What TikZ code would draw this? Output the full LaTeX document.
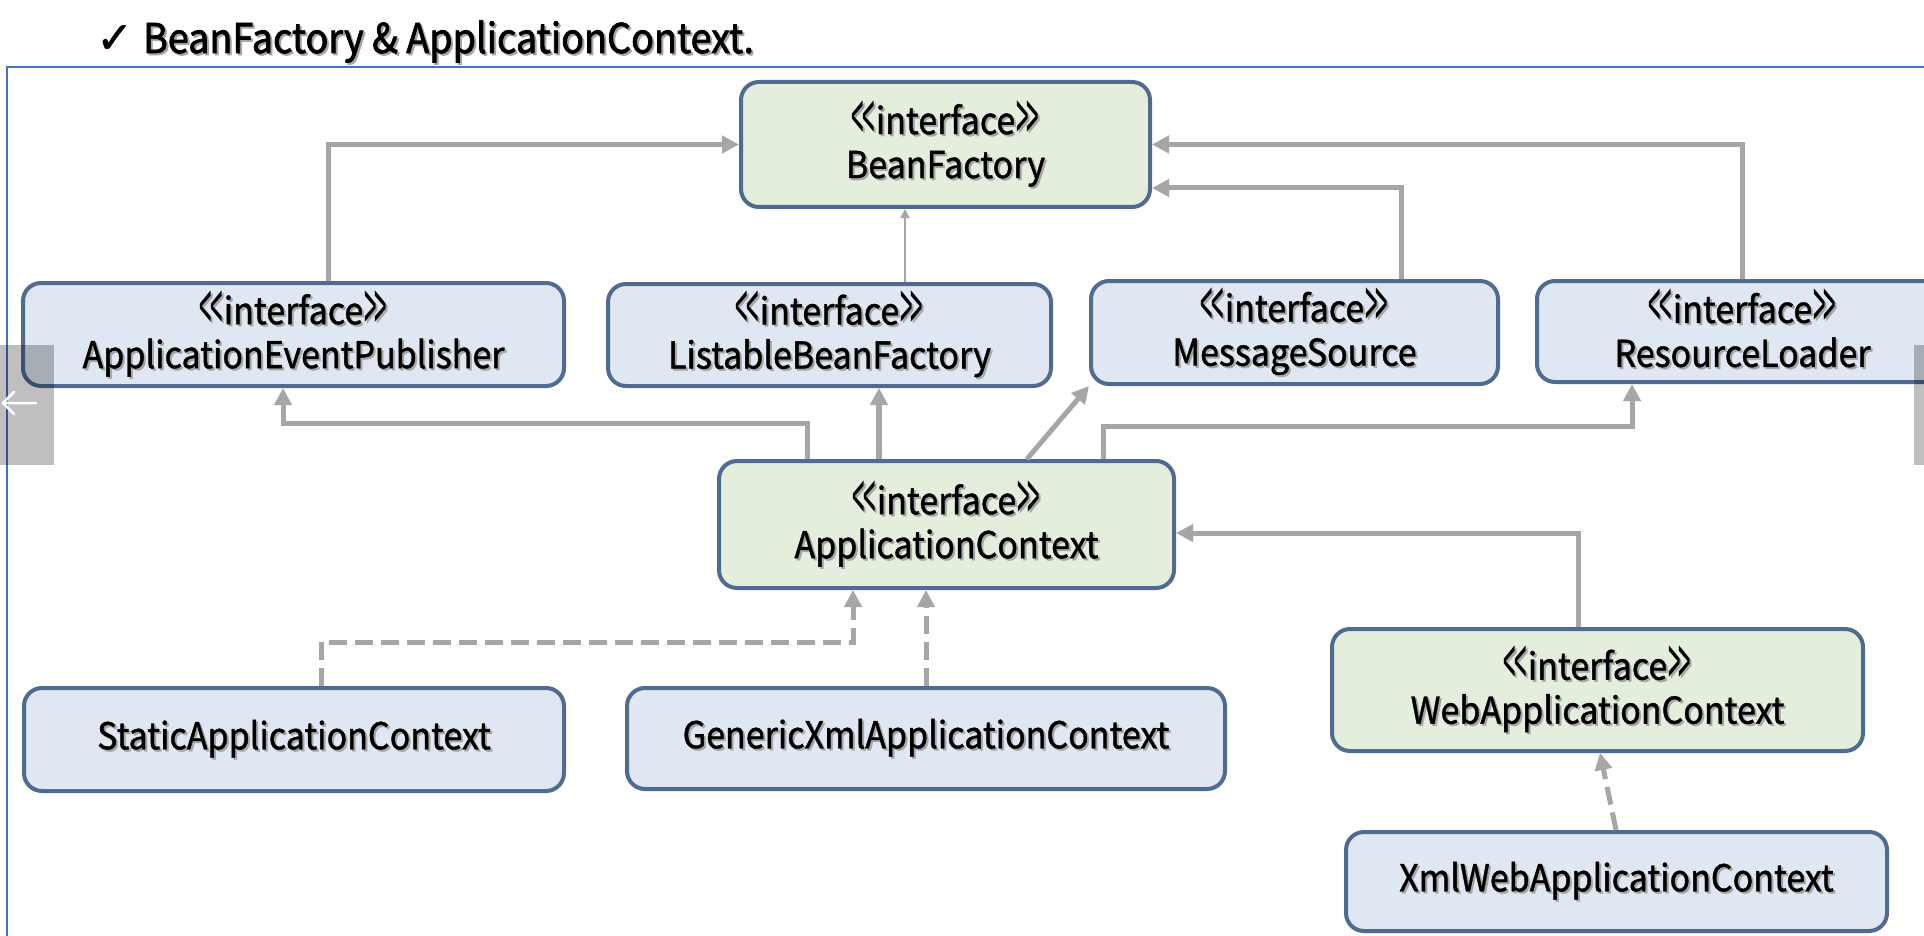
\documentclass[tikz,border=0pt]{standalone}
\usepackage{fontspec}
\setmainfont{Noto Sans CJK KR}[FakeStretch=0.92, FakeBold=1.1]
\newfontfamily\titlefont{Noto Sans CJK KR}[FakeStretch=0.92, FakeBold=1.8]
\newfontfamily\chevfont{Noto Sans CJK KR}[FakeStretch=0.32]
\newfontfamily\symfont{DejaVu Sans}[FakeBold=1.2]
\usetikzlibrary{arrows.meta}

\definecolor{boxline}{HTML}{4F6B91}
\definecolor{bluefill}{HTML}{DEE7F2}
\definecolor{greenfill}{HTML}{E4EEDC}
\definecolor{conn}{HTML}{A6A6A6}
\definecolor{frameblue}{HTML}{4472C4}

% text with a soft grey drop shadow
\newcommand\shd[1]{\makebox[0pt][l]{\hspace{2pt}\raisebox{-2pt}{\color{black!35}#1}}#1}
% tall narrow chevrons for the stereotype
\newcommand\chevl{\raisebox{-8pt}{\chevfont\fontsize{70}{70}\selectfont <}}
\newcommand\chevr{\raisebox{-8pt}{\chevfont\fontsize{70}{70}\selectfont >}}
\newcommand\lstrut{\rule[-7pt]{0pt}{37pt}}
\newcommand\iface{\chevl\kern-2pt\chevl\kern1pt interface\kern1pt\chevr\kern-2pt\chevr}

\tikzset{
  cls/.style={draw=boxline, line width=4pt, rounded corners=18pt, align=center,
    font=\fontsize{37}{44}\selectfont, inner sep=0pt},
  bluebox/.style={cls, fill=bluefill},
  greenbox/.style={cls, fill=greenfill},
  arr/.style={draw=conn, line width=5pt, -{Triangle[length=17pt,width=17pt]}},
  thickarr/.style={arr, line width=6pt},
  thinarr/.style={draw=conn, line width=2pt, -{Triangle[length=9pt,width=9pt]}},
  darr/.style={arr, dash pattern=on 18pt off 8pt},
}

\begin{document}
\begin{tikzpicture}[x=1pt,y=-1pt]
\useasboundingbox (0,0) rectangle (1924,936);
\clip (0,0) rectangle (1924,936);
\fill[white] (0,0) rectangle (1924,936);

% heading
\node[anchor=base west, inner sep=0pt, font=\titlefont\fontsize{41}{48}\selectfont] (title) at (96,53)
  {{\symfont\fontsize{44}{46}\selectfont ✓}\hspace{10pt}\shd{BeanFactory \& ApplicationContext.}};

% frame of the slide area
\draw[frameblue, line width=2pt] (7,945) -- (7,67) -- (1935,67);

% classes and interfaces
\node[greenbox, minimum width=409pt, minimum height=125pt] (bf) at (945.5,144.5)
  {\lstrut\shd{\iface}\\\lstrut\shd{BeanFactory}};
\node[bluebox, minimum width=541pt, minimum height=103pt] (aep) at (293.5,334.5)
  {\lstrut\shd{\iface}\\\lstrut\shd{ApplicationEventPublisher}};
\node[bluebox, minimum width=443pt, minimum height=102pt] (lbf) at (829.5,335)
  {\lstrut\shd{\iface}\\\lstrut\shd{ListableBeanFactory}};
\node[bluebox, minimum width=407pt, minimum height=103pt] (ms) at (1294.5,332.5)
  {\lstrut\shd{\iface}\\\lstrut\shd{MessageSource}};
\node[bluebox, minimum width=411pt, minimum height=101pt] (rl) at (1742.5,331.5)
  {\lstrut\shd{\iface}\\\lstrut\shd{ResourceLoader}};
\node[greenbox, minimum width=455pt, minimum height=127pt] (ac) at (946.5,524.5)
  {\lstrut\shd{\iface}\\\lstrut\shd{ApplicationContext}};
\node[greenbox, minimum width=531pt, minimum height=122pt] (wac) at (1597.5,690)
  {\lstrut\shd{\iface}\\\lstrut\shd{WebApplicationContext}};
\node[bluebox, minimum width=541pt, minimum height=99pt] (xwac) at (1616.5,881.5)
  {\lstrut\shd{XmlWebApplicationContext}};
\node[bluebox, minimum width=540pt, minimum height=103pt] (sac) at (294,739.5)
  {\lstrut\shd{StaticApplicationContext}};
\node[bluebox, minimum width=598pt, minimum height=101pt] (gxac) at (926,738.5)
  {\lstrut\shd{GenericXmlApplicationContext}};

% generalisations towards BeanFactory
\draw[arr] ([xshift=34.5pt]aep.north) |- (bf.west);
\draw[thinarr] ([xshift=75.5pt]lbf.north) -- ([xshift=75.5pt]lbf.north |- bf.south);
\draw[arr] ([xshift=106.5pt]ms.north) |- ([yshift=-43.5pt]bf.east);
\draw[arr] (rl.north) |- (bf.east);

% ApplicationContext extends the four interfaces
\draw[arr] ([xshift=-139.5pt]ac.north) |- ([xshift=-10.5pt,yshift=-35pt]aep.south) -- ([xshift=-10.5pt]aep.south);
\draw[thickarr] ([xshift=-67.5pt]ac.north) -- ([xshift=49.5pt]lbf.south);
\draw[arr] ([xshift=80.5pt]ac.north) -- (ms.south west);
\draw[arr] ([xshift=156.5pt]ac.north) |- ([xshift=-110.5pt,yshift=-42pt]rl.south) -- ([xshift=-110.5pt]rl.south);

% WebApplicationContext extends ApplicationContext
\draw[arr] ([xshift=-19.5pt]wac.north) |- ([yshift=-8.5pt]ac.east);

% implementations
\draw[darr] ([xshift=27pt]sac.north) |- ([xshift=-93.5pt,yshift=-52pt]ac.south) -- ([xshift=-93.5pt]ac.south);
\draw[darr] (gxac.north) -- (gxac.north |- ac.south);
\draw[darr] ([xshift=-0.5pt]xwac.north) -- ([xshift=2.5pt]wac.south);

% page scroll handles
\fill[black, opacity=0.25] (0,345) rectangle (54,465);
\fill[black, opacity=0.25] (1914,345) rectangle (1924,465);
\draw[white, line width=2.5pt, line cap=round, line join=round]
  (36,403) -- (3,403) (14,392) -- (3,403) -- (14,414);
\end{tikzpicture}
\end{document}
